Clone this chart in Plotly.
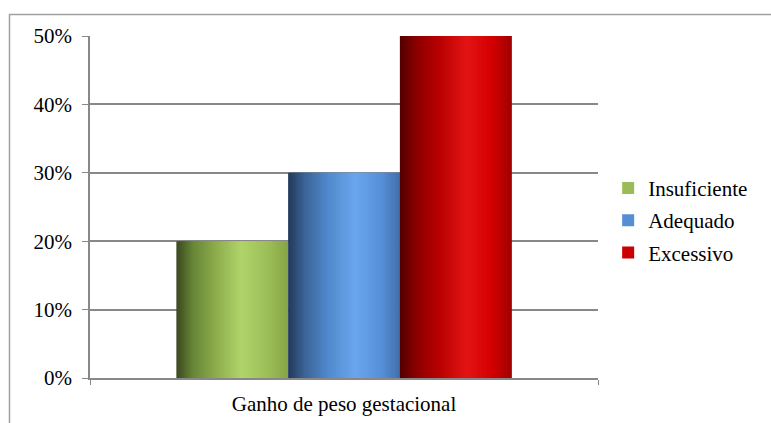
import plotly.graph_objects as go

# Data
category = ["Ganho de peso gestacional"]
series = ["Insuficiente", "Adequado", "Excessivo"]
values = [0.20, 0.30, 0.50]
legend_colors = ["#9BBB59", "#558ED5", "#CC0000"]

# Horizontal shading profile of each bar: (position across bar, colour)
shading = {
    "Insuficiente": [(0.0, (58, 72, 32)), (0.15, (104, 134, 56)), (0.35, (140, 172, 76)),
                     (0.58, (176, 212, 106)), (0.82, (156, 190, 88)), (1.0, (134, 164, 70))],
    "Adequado": [(0.0, (34, 56, 88)), (0.15, (60, 100, 150)), (0.35, (80, 136, 204)),
                 (0.6, (106, 166, 238)), (0.85, (84, 142, 214)), (1.0, (66, 110, 170))],
    "Excessivo": [(0.0, (80, 0, 0)), (0.15, (140, 0, 0)), (0.35, (184, 0, 0)),
                  (0.6, (228, 20, 20)), (0.82, (212, 0, 0)), (1.0, (160, 0, 0))],
}

FONT = "Liberation Serif"
FONT_SIZE = 21
BARGAP = 0.34
N_SLICES = 56


def shade_at(stops, t):
    for (p0, c0), (p1, c1) in zip(stops, stops[1:]):
        if p0 <= t <= p1:
            f = (t - p0) / (p1 - p0) if p1 > p0 else 0
            return "rgb({},{},{})".format(*[round(a + (b - a) * f) for a, b in zip(c0, c1)])
    return "rgb({},{},{})".format(*stops[-1][1])


fig = go.Figure()

group_w = 1 - BARGAP
bar_w = group_w / len(series)
slice_w = bar_w / N_SLICES

for k, (name, val, lcol) in enumerate(zip(series, values, legend_colors)):
    start = -group_w / 2 + k * bar_w
    for i in range(N_SLICES):
        t = (i + 0.5) / N_SLICES
        # each slice overlaps the next one so no seams show; the last one stops at the bar edge
        w = slice_w * 2 if i < N_SLICES - 1 else slice_w
        fig.add_trace(go.Bar(
            x=category, y=[val],
            offset=start + i * slice_w, width=w,
            marker=dict(color=shade_at(shading[name], t), line=dict(width=0)),
            showlegend=False, hoverinfo="skip",
        ))
    # legend entry
    fig.add_trace(go.Bar(
        x=category, y=[None], name=name, legendgroup=name,
        marker=dict(color=lcol, line=dict(width=0)), showlegend=True,
    ))

fig.update_layout(
    width=771, height=423,
    margin=dict(l=90, r=173, t=36, b=45),
    paper_bgcolor="white", plot_bgcolor="white",
    barmode="overlay",
    font=dict(family=FONT, size=FONT_SIZE, color="black"),
    showlegend=True,
    legend=dict(
        x=1.02, y=0.461, xanchor="left", yanchor="middle",
        font=dict(family=FONT, size=FONT_SIZE, color="black"),
        traceorder="grouped", tracegroupgap=2,
        bgcolor="rgba(0,0,0,0)",
    ),
    xaxis=dict(
        type="category", range=[-0.5, 0.5], automargin=False,
        showgrid=False, showline=True, linecolor="#888888", linewidth=1.5,
        ticks="outside", tickson="boundaries", ticklen=5, tickcolor="#888888",
        tickfont=dict(family=FONT, size=FONT_SIZE, color="black"),
        ticklabelstandoff=6,
    ),
    yaxis=dict(
        range=[0, 0.5], dtick=0.1, tickformat=".0%", automargin=False,
        showgrid=True, gridcolor="#888888", gridwidth=1.5,
        showline=True, linecolor="#888888", linewidth=1.5,
        ticks="outside", ticklen=6, tickcolor="#888888",
        tickfont=dict(family=FONT, size=FONT_SIZE, color="black"),
        ticklabelstandoff=6, zeroline=False,
    ),
    shapes=[dict(
        type="rect", xref="paper", yref="paper",
        x0=-0.1585, x1=1.6, y0=-0.2, y1=1.063,
        line=dict(color="#a0a0a0", width=1.5), layer="below",
    )],
)

fig.write_html("out.html")
